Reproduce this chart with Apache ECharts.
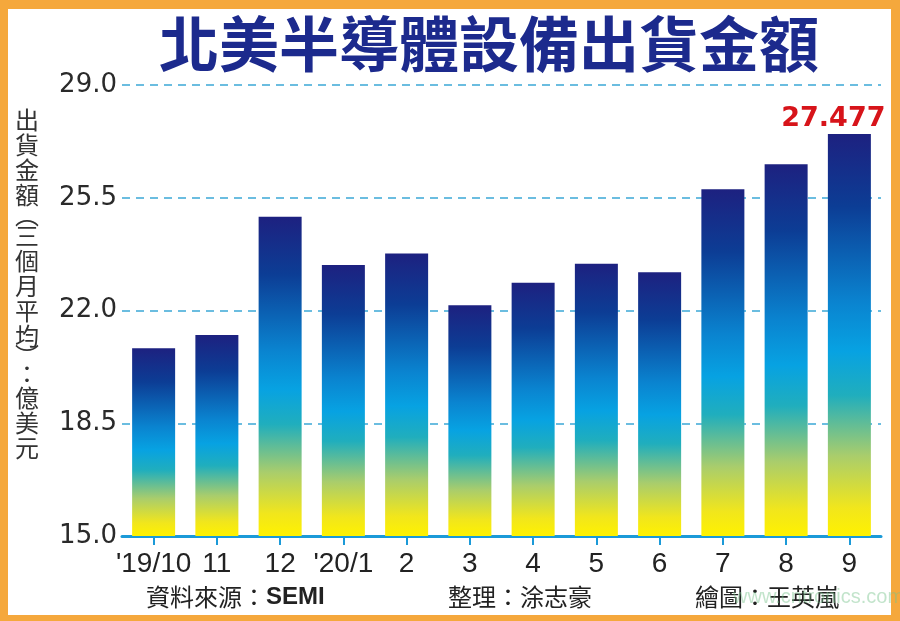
<!DOCTYPE html>
<html>
<head>
<meta charset="utf-8">
<script src="https://cdn.jsdelivr.net/npm/echarts@6/dist/echarts.min.js"></script>
<style>
html,body{margin:0;padding:0;background:#F5A83C;}
#c{width:900px;height:621px;}
</style>
</head>
<body>
<div id="c"></div>
<script>
const categories = ["'19/10", "11", "12", "'20/1", "2", "3", "4", "5", "6", "7", "8", "9"];
const values = [20.83, 21.24, 24.91, 23.41, 23.77, 22.16, 22.86, 23.45, 23.19, 25.76, 26.54, 27.477];
const yTicks = [15.0, 18.5, 22.0, 25.5, 29.0];
const titleText = "北美半導體設備出貨金額";
const yNameChars = ["出","貨","金","額","︵","三","個","月","平","均","︶","：","億","美","元"];
const footerSource = "資料來源：";
const footerSourceName = "SEMI";
const footerEditor = "整理：涂志豪";
const footerArtist = "繪圖：王英嵐";
const watermark = "www.cntronics.com";

const chart = echarts.init(document.getElementById('c'), null, {renderer: 'canvas'});

const barGradient = {
  type: 'linear', x: 0, y: 0, x2: 0, y2: 1,
  colorStops: [
    {offset: 0, color: '#1d2180'},
    {offset: 0.18, color: '#0c3d95'},
    {offset: 0.42, color: '#0a84d0'},
    {offset: 0.54, color: '#07a2e2'},
    {offset: 0.65, color: '#20aebd'},
    {offset: 0.8, color: '#a9cd6c'},
    {offset: 0.93, color: '#f1e61c'},
    {offset: 1, color: '#fff200'}
  ]
};

const lastIdx = values.length - 1;
const barData = values.map((v, i) => i === lastIdx ? {
  value: v,
  label: {
    show: true, position: 'top', distance: 2, offset: [-16, 0],
    formatter: String(v),
    color: '#d7141a', fontSize: 27, fontWeight: 'bold', fontFamily: 'DejaVu Sans'
  }
} : v);

const yName = yNameChars.map(ch => (ch === '︵' || ch === '︶') ? '{p|' + ch + '}' : (ch === '：' ? '{c|' + ch + '}' : '{a|' + ch + '}')).join('\n');
const cjk = '"Noto Sans CJK TC"';

chart.setOption({
  backgroundColor: 'transparent',
  animation: false,
  graphic: [
    {type: 'rect', shape: {x: 8, y: 9, width: 883, height: 606}, style: {fill: '#ffffff'}, z: -10},
    {type: 'text', x: 489, y: 14, style: {
      text: titleText, fill: '#1c2a8d', fontSize: 60, fontWeight: 'bold',
      fontFamily: cjk, textAlign: 'center', textVerticalAlign: 'top'
    }},
    {type: 'text', x: 15, y: 107, style: {
      text: yName, fill: '#333333', fontFamily: cjk,
      rich: {
        a: {fontSize: 24, lineHeight: 25.2, fontFamily: cjk, fill: '#333'},
        p: {fontSize: 24, lineHeight: 15, fontFamily: cjk, fill: '#333'},
        c: {fontSize: 24, lineHeight: 21, fontFamily: cjk, fill: '#333'}
      }
    }},
    {type: 'text', x: 146, y: 585, style: {
      text: '{a|' + footerSource + '}{b|' + footerSourceName + '}',
      rich: {
        a: {fontSize: 24, fontFamily: cjk, fill: '#222'},
        b: {fontSize: 24, fontWeight: 'bold', fontFamily: '"Liberation Sans"', fill: '#222'}
      }
    }},
    {type: 'text', x: 448, y: 585, style: {
      text: footerEditor, fontSize: 24, fontFamily: cjk, fill: '#222'
    }},
    {type: 'text', x: 695, y: 585, style: {
      text: footerArtist, fontSize: 24, fontFamily: cjk, fill: '#222'
    }},
    {type: 'text', x: 733, y: 587, style: {
      text: watermark, fontSize: 20, fontFamily: '"Liberation Sans"', fill: 'rgba(120,195,140,0.45)'
    }, z: 10}
  ],
  grid: {left: 122, right: 19, top: 85, bottom: 85, containLabel: false},
  xAxis: {
    type: 'category',
    data: categories,
    axisLine: {show: true, lineStyle: {color: '#1b9ad8', width: 3}},
    axisTick: {show: true, alignWithLabel: true, length: 9, lineStyle: {color: '#1b9ad8', width: 2}},
    axisLabel: {color: '#222', fontSize: 28, fontFamily: '"Liberation Sans"', margin: 14, interval: 0}
  },
  yAxis: {
    type: 'value',
    min: yTicks[0], max: yTicks[yTicks.length - 1], interval: yTicks[1] - yTicks[0],
    axisLine: {show: false},
    axisTick: {show: false},
    splitLine: {show: true, lineStyle: {color: '#3ba8d6', width: 1.5, type: [8, 6]}},
    axisLabel: {
      color: '#2a2a2a', fontSize: 26, fontFamily: '"DejaVu Sans"', margin: 5,
      formatter: v => v.toFixed(1)
    }
  },
  series: [{
    type: 'bar',
    data: barData,
    barWidth: 43,
    itemStyle: {color: barGradient},
    z: 3
  }]
});
</script>
</body>
</html>
